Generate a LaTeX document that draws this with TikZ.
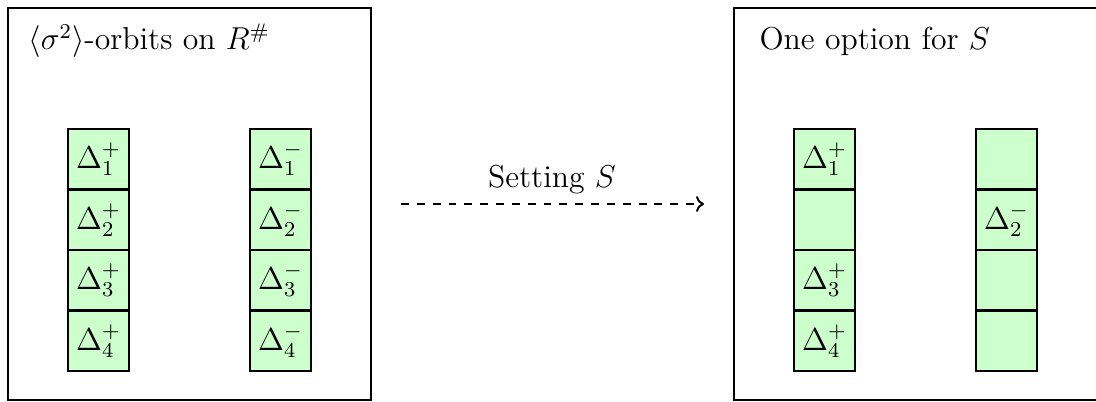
\documentclass[tikz,border=0pt]{standalone}
\usetikzlibrary{arrows.meta}
\definecolor{cellgreen}{RGB}{204,255,204}
\tikzset{
  panel/.style={draw=black, line width=0.75pt},
  cell/.style={draw=black, line width=0.75pt, fill=cellgreen, minimum width=23.1pt, minimum height=22.9pt, inner sep=0pt, outer sep=0pt, font=\large},
  title/.style={anchor=base west, font=\large, inner sep=0pt},
  setarrow/.style={dashed, dash pattern=on 3pt off 3pt, line width=0.75pt, -{To[length=3pt,width=6pt]}}
}
\begin{document}
\begin{tikzpicture}[x=0.3788pt,y=-0.3788pt]
\useasboundingbox (0,0) rectangle (1096,401);
% panels
\draw[panel] (8,8) rectangle (371,400);
\draw[panel] (734,8) rectangle (1110,400);
\node[title] (t1) at (28,50) {$\langle\sigma^2\rangle$-orbits on $R^{\#}$};
\node[title] (t2) at (759,50) {One option for $S$};
% left panel cells
\foreach \i/\y in {1/159.25,2/219.75,3/280.25,4/340.75}{
  \node[cell] (lp\i) at (98.5,\y) {$\Delta_{\i}^{+}$};
  \node[cell] (lm\i) at (280.5,\y) {$\Delta_{\i}^{-}$};
}
% right panel cells
\node[cell] (rp1) at (824.5,159.25) {$\Delta_{1}^{+}$};
\node[cell] (rp2) at (824.5,219.75) {};
\node[cell] (rp3) at (824.5,280.25) {$\Delta_{3}^{+}$};
\node[cell] (rp4) at (824.5,340.75) {$\Delta_{4}^{+}$};
\node[cell] (rm1) at (1006.5,159.25) {};
\node[cell] (rm2) at (1006.5,219.75) {$\Delta_{2}^{-}$};
\node[cell] (rm3) at (1006.5,280.25) {};
\node[cell] (rm4) at (1006.5,340.75) {};
% arrow
\coordinate (a0) at (401,204);
\coordinate (a1) at (704,204);
\draw[setarrow] (a0) -- (a1);
\node[anchor=base, font=\large, inner sep=0pt] (lab) at (552,187) {Setting $S$};
\end{tikzpicture}
\end{document}
